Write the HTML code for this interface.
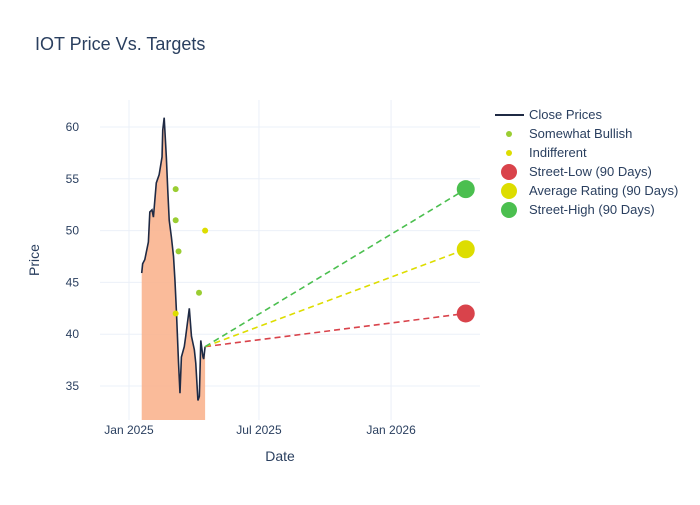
<!DOCTYPE html>
<html><head><meta charset="utf-8"><style>
body{margin:0;background:#fff;font-family:"Liberation Sans",sans-serif}
svg text{font-family:"Liberation Sans",sans-serif;fill:#2a3f5f}
</style></head><body>
<svg id="chart" width="700" height="500" xmlns="http://www.w3.org/2000/svg">
<rect width="700" height="500" fill="#fff"/>
<text x="35" y="50" font-size="18">IOT Price Vs. Targets</text>
<g id="grid"></g><g id="marks"></g><g id="axes"></g><g id="legend"></g>
</svg>
<script>
const closeDays=[17.7,19,22,27,29,32,34,38,42,46,47,49,52,54,56,59,62,64,66,69,71,73,77,79,84,87,91,93,96,98,100,103,104,106];
const closePrices=[45.9,46.8,47.2,48.9,51.8,52.0,51.3,54.6,55.4,57.1,59.7,60.9,57.1,53.9,51.0,49.4,47.5,45.2,42.3,37.2,34.3,37.8,38.8,39.8,42.5,39.8,38.5,37.2,33.6,34.0,39.4,37.8,37.6,38.8];
const bullishDays=[65,65,69,97.5];
const bullishPrices=[54,51,48,44];
const indiffDays=[65,106];
const indiffPrices=[42,50];
const targetDay=469;
const targetNames=["Street-Low (90 Days)","Average Rating (90 Days)","Street-High (90 Days)"];
const targetValues=[42,48.2,54];
const targetColors=["#d9434b","#dddd00","#4bbf4f"];
const yTicks=[35,40,45,50,55,60];
const xTickDays=[0,181,365];
const xTickLabels=["Jan 2025","Jul 2025","Jan 2026"];

const L=100,R=480,T=100,B=420;
const X=d=>129+d*0.718;
const Y=p=>127+(60-p)*10.36;
const NS="http://www.w3.org/2000/svg";
function mk(tag,attrs,parent){const e=document.createElementNS(NS,tag);for(const k in attrs)e.setAttribute(k,attrs[k]);document.getElementById(parent).appendChild(e);return e;}

yTicks.forEach(v=>{
 const g=mk("line",{x1:L,x2:R,y1:Y(v),y2:Y(v),stroke:"#ebf0f8","stroke-width":1},"grid");
 
 
 const t=mk("text",{x:L-21,y:Y(v)+4,"text-anchor":"end","font-size":12},"axes");
 t.textContent=v;
 
 
});
xTickDays.forEach((d,i)=>{
 const g=mk("line",{x1:X(d),x2:X(d),y1:T,y2:B,stroke:"#ebf0f8","stroke-width":1},"grid");
 
 
 const t=mk("text",{x:X(d),y:B+14,"text-anchor":"middle","font-size":12},"axes");
 t.textContent=xTickLabels[i];
 
 
});
let t=mk("text",{x:280,y:461,"text-anchor":"middle","font-size":14},"axes");t.textContent="Date";


t=mk("text",{x:39,y:260,"text-anchor":"middle","font-size":14,transform:"rotate(-90 39 260)"},"axes");t.textContent="Price";



let pts=closeDays.map((d,i)=>X(d)+","+Y(closePrices[i]));
let area=mk("polygon",{points:X(closeDays[0])+","+B+" "+pts.join(" ")+" "+X(closeDays[closeDays.length-1])+","+B,fill:"#f9b48f","fill-opacity":0.9},"marks");


let line=mk("polyline",{points:pts.join(" "),fill:"none",stroke:"#1f2a44","stroke-width":1.6},"marks");



const lastD=closeDays[closeDays.length-1],lastP=closePrices[closePrices.length-1];
targetValues.forEach((v,i)=>{
 const l=mk("line",{x1:X(lastD),y1:Y(lastP),x2:X(targetDay),y2:Y(v),stroke:targetColors[i],"stroke-width":1.6,"stroke-dasharray":"6,4"},"marks");
 
 
 const c=mk("circle",{cx:X(targetDay),cy:Y(v),r:9,fill:targetColors[i]},"marks");
 
 
});
bullishDays.forEach((d,i)=>{
 const c=mk("circle",{cx:X(d),cy:Y(bullishPrices[i]),r:3,fill:"#9acd32"},"marks");
 
 
});
indiffDays.forEach((d,i)=>{
 const c=mk("circle",{cx:X(d),cy:Y(indiffPrices[i]),r:3,fill:"#dddd00"},"marks");
 
 
});

const legY=[115,134,153,172,191,210];
const legText=["Close Prices","Somewhat Bullish","Indifferent"].concat(targetNames);
legText.forEach((s,i)=>{
 const y=legY[i];
 if(i===0){const l=mk("line",{x1:495,x2:524,y1:y,y2:y,stroke:"#1f2a44","stroke-width":2},"legend");}
 else if(i<3){const c=mk("circle",{cx:509,cy:y,r:3,fill:i===1?"#9acd32":"#dddd00"},"legend");}
 else{const c=mk("circle",{cx:509,cy:y,r:8,fill:targetColors[i-3]},"legend");}
 const tx=mk("text",{x:529,y:y+4,"font-size":13},"legend");tx.textContent=s;
 
 
});
</script>
</body></html>
